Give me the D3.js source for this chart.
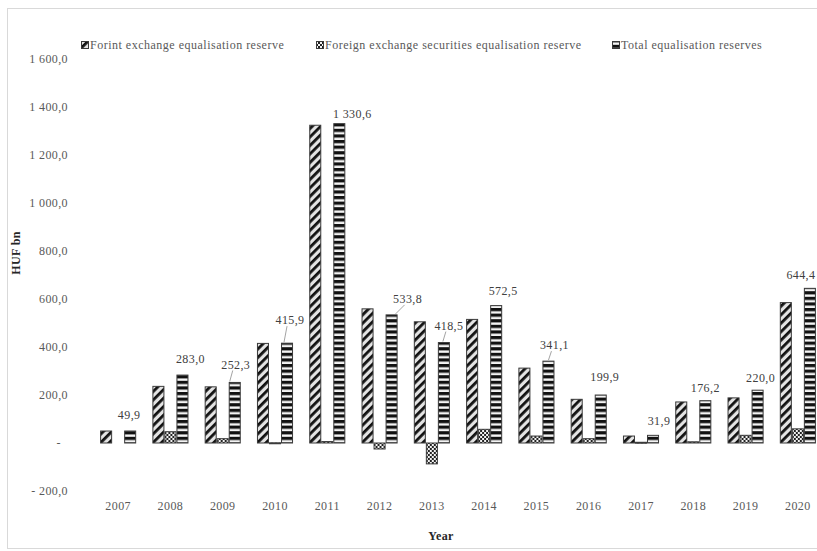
<!DOCTYPE html>
<html>
<head>
<meta charset="utf-8">
<script src="https://cdn.jsdelivr.net/npm/d3@7"></script>
<style>
  body { margin: 0; background: #fff; }
  text { font-family: "Liberation Serif", "Times New Roman", serif; letter-spacing: 0.4px; }
</style>
</head>
<body>
<script>
// Data (HUF bn)
var years = ["2007", "2008", "2009", "2010", "2011", "2012", "2013",
             "2014", "2015", "2016", "2017", "2018", "2019", "2020"];
var forint = [49.9, 236, 234, 415, 1324, 559, 505, 515, 312, 182, 29, 171, 188, 585];
var foreign = [0, 47, 18, 1, 6, -25, -87, 57, 29, 18, 3, 5, 32, 59];
var total = [49.9, 283.0, 252.3, 415.9, 1330.6, 533.8, 418.5, 572.5, 341.1, 199.9, 31.9, 176.2, 220.0, 644.4];
var seriesNames = ["Forint exchange equalisation reserve",
                   "Foreign exchange securities equalisation reserve",
                   "Total equalisation reserves"];
var yTicks = [-200, 0, 200, 400, 600, 800, 1000, 1200, 1400, 1600];

// label nudges (px, relative to top of total bar), and which ones get a leader line
var labelNudge = [[-1, -16], [8, -16], [1, -18], [3, -23], [13, -10], [16, -16], [5, -17],
                  [7, -15], [6, -16], [4, -18], [6, -15], [0, -13], [3, -12], [-9, -14]];
var leader = [false, false, true, true, false, true, true, false, true, false, false, false, false, false];

var width = 817, height = 551;
var svg = d3.select("body").append("svg")
  .attr("width", width)
  .attr("height", height);

// Patterns
var defs = svg.append("defs");
var p1 = defs.append("pattern").attr("id", "pDiag")
  .attr("patternUnits", "userSpaceOnUse").attr("width", 6).attr("height", 6)
  .attr("patternTransform", "rotate(45)");
p1.append("rect").attr("width", 6).attr("height", 6).attr("fill", "#e4e4e4");
p1.append("rect").attr("x", 0).attr("width", 2.8).attr("height", 6).attr("fill", "#111");

var p2 = defs.append("pattern").attr("id", "pCheck")
  .attr("patternUnits", "userSpaceOnUse").attr("width", 4).attr("height", 4);
p2.append("rect").attr("width", 4).attr("height", 4).attr("fill", "#f2f2f2");
p2.append("rect").attr("width", 2).attr("height", 2).attr("fill", "#222");
p2.append("rect").attr("x", 2).attr("y", 2).attr("width", 2).attr("height", 2).attr("fill", "#222");

var p3 = defs.append("pattern").attr("id", "pHoriz")
  .attr("patternUnits", "userSpaceOnUse").attr("width", 6).attr("height", 5.6);
p3.append("rect").attr("width", 6).attr("height", 5.6).attr("fill", "#f4f4f4");
p3.append("rect").attr("width", 6).attr("height", 3.2).attr("fill", "#111");

var fills = ["url(#pDiag)", "url(#pCheck)", "url(#pHoriz)"];

// chart border
svg.append("rect")
  .attr("x", 7.5).attr("y", 8.5)
  .attr("width", 830).attr("height", 540)
  .attr("fill", "none").attr("stroke", "#d9d9d9");

// Scales
var x0 = d3.scaleBand()
  .domain(years)
  .range([92, 824])
  .paddingInner(0.31)
  .paddingOuter(0.155);

var x1 = d3.scaleBand()
  .domain([0, 1, 2])
  .range([0, x0.bandwidth()]);

var y = d3.scaleLinear()
  .domain([-200, 1600])
  .range([491, 59]);

function fmt(v) {
  return d3.format(",.1f")(v).replace(/,/g, " ").replace(".", ",");
}

// Y axis labels
svg.append("g").selectAll("text")
  .data(yTicks)
  .enter().append("text")
    .attr("x", function(d) { return d === 0 ? 61 : 68; })
    .attr("y", function(d) { return y(d); })
    .attr("dy", "0.35em")
    .attr("text-anchor", "end")
    .attr("fill", "#595959")
    .style("font-size", "12px")
    .text(function(d) {
      if (d === 0) return "-";
      if (d < 0) return "- " + fmt(-d);
      return fmt(d);
    });

// Y axis title
svg.append("text")
  .attr("transform", "translate(20," + 253 + ") rotate(-90)")
  .attr("text-anchor", "middle")
  .attr("fill", "#262626")
  .style("font-size", "12px")
  .style("font-weight", "bold")
  .text("HUF bn");

// X axis labels
svg.append("g").selectAll("text")
  .data(years)
  .enter().append("text")
    .attr("x", function(d) { return x0(d) + x0.bandwidth() / 2; })
    .attr("y", 506)
    .attr("dy", "0.35em")
    .attr("text-anchor", "middle")
    .attr("fill", "#595959")
    .style("font-size", "12px")
    .text(function(d) { return d; });

svg.append("text")
  .attr("x", 441).attr("y", 536)
  .attr("dy", "0.35em")
  .attr("text-anchor", "middle")
  .attr("fill", "#262626")
  .style("font-size", "12px")
  .style("font-weight", "bold")
  .text("Year");

// Bars
var series = [forint, foreign, total];
var groups = svg.append("g").selectAll("g")
  .data(years)
  .enter().append("g")
    .attr("transform", function(d) { return "translate(" + x0(d) + ",0)"; });

groups.selectAll("rect")
  .data(function(d, i) { return series.map(function(s, k) { return {k: k, v: s[i]}; }); })
  .enter().append("rect")
    .filter(function(d) { return d.v !== 0; })
    .attr("x", function(d) { return x1(d.k) + 0.5; })
    .attr("y", function(d) { return Math.min(y(d.v), y(0)); })
    .attr("width", x1.bandwidth() - 1)
    .attr("height", function(d) { return Math.max(1, Math.abs(y(d.v) - y(0))); })
    .attr("fill", function(d) { return fills[d.k]; })
    .attr("stroke", "#3a3a3a")
    .attr("stroke-width", 1);

// Data labels for totals
var labels = svg.append("g");
years.forEach(function(yr, i) {
  var bx = x0(yr) + x1(2) + x1.bandwidth() / 2;
  var by = y(total[i]);
  var lx = bx + labelNudge[i][0];
  var ly = by + labelNudge[i][1];
  if (leader[i]) {
    labels.append("line")
      .attr("x1", lx - 3).attr("y1", ly + 6)
      .attr("x2", Math.min(lx - 6, bx + 4)).attr("y2", by - 1)
      .attr("stroke", "#8c8c8c").attr("stroke-width", 0.8);
  }
  labels.append("text")
    .attr("x", lx).attr("y", ly)
    .attr("dy", "0.35em")
    .attr("text-anchor", "middle")
    .attr("fill", "#404040")
    .style("font-size", "12px")
    .text(fmt(total[i]));
});

// Legend
var legendX = [81, 316, 612];
var legend = svg.append("g");
seriesNames.forEach(function(name, k) {
  legend.append("rect")
    .attr("x", legendX[k] + 0.5).attr("y", 41.5)
    .attr("width", 7).attr("height", 7)
    .attr("fill", fills[k])
    .attr("stroke", "#3a3a3a");
  legend.append("text")
    .attr("x", legendX[k] + 9).attr("y", 45)
    .attr("dy", "0.35em")
    .attr("fill", "#595959")
    .style("font-size", "12px")
    .style("letter-spacing", "0.5px")
    .text(name);
});
</script>
</body>
</html>
